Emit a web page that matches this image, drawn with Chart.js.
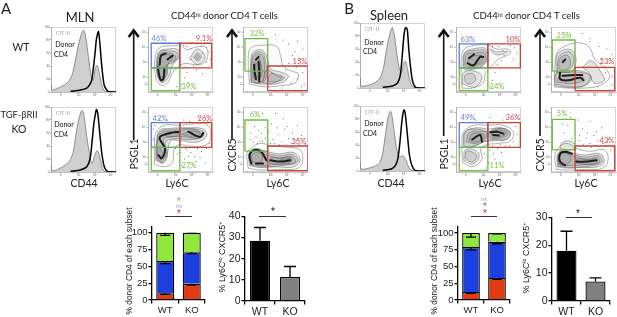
<!DOCTYPE html>
<html><head><meta charset="utf-8">
<script src="https://cdn.jsdelivr.net/npm/chart.js@4"></script>
<style>
html,body{margin:0;padding:0;background:#fff;overflow:hidden}
#stage{position:relative;width:617px;height:317px;overflow:hidden;filter:blur(.35px)}
canvas{position:absolute}
.t{position:absolute;white-space:nowrap;font-family:Lato,sans-serif;color:#222;line-height:1;transform:translate(-50%,-50%)}
.t sup{font-size:.62em;line-height:0;vertical-align:.45em}
.a{font-family:"Liberation Sans",Arial,sans-serif;color:#333}
.r{transform:translate(-50%,-50%) rotate(-90deg)}
.sl{position:absolute;height:1px;background:#333}
svg{position:absolute;left:0;top:0}
</style></head><body><div id="stage"><svg width="617" height="317" id="arrows"></svg></div>
<script>
/* ---------- histograms: x, y pairs in % of the axis ---------- */
const histAWtGray=[0.5,12,1,3,6,4,15,8,25,14,32,25,37,46,42,72,47,90,50,95,53,87,58,51,62,23,65,18,68,36,71,41,75,26,79,8,83,1,100,0];
const histAWtBlack=[30,1,45,3,55,6,60,12,63,20,68,62,70,82,73,93,75,77,78,41,82,10,88,1,100,0];
const histAKoGray=[0.5,10,1,2,8,3,18,8,28,16,34,30,38,55,42,78,46,92,48,95,51,85,55,55,60,22,63,13,67,25,71,33,74,28,78,10,82,1,100,0];
const histAKoBlack=[30,1,45,3,55,8,60,20,63,45,66,75,69,93,70,96,72,90,75,60,78,30,82,8,87,1,100,0];
const histBWtGray=[0.5,15,1.5,3,12,4,22,8,30,14,36,30,40,55,44,75,48,90,50,93,53,80,57,50,61,28,64,24,67,38,70,41,73,30,77,10,82,1,100,0];
const histBWtBlack=[35,1,50,3,58,8,62,20,65,50,67,75,69,90,71,93,73,88,75,60,78,30,81,10,86,1,100,0];
const histBKoGray=[0.5,14,1.5,3,12,4,22,7,30,12,35,28,39,55,43,82,47,92,50,80,54,50,58,26,62,22,66,24,70,18,74,8,78,2,85,0,100,0];
const histBKoBlack=[35,1,48,3,54,8,58,18,61,40,64,72,66,88,68,94,70,85,73,55,76,25,80,8,85,1,100,0];
const flowXTicks=[15,43,68,92];
const flowXLabels=['0','10³','10⁴','10⁵'];
const flowYTicks=[12,23,46,69,92];
const flowYLabels=['0','10²','10³','10⁴','10⁵'];
const histYTicks=[0,20,40,60,80,100];

/* ---------- contour plots: x, y pairs in % of the axis ---------- */
const a1wtRings=[[12,20,10,40,13,62,22,70,38,71,50,72,60,65,70,68,88,70,92,55,85,44,72,42,58,44,48,40,38,30,30,14,20,10,12,20],[14,25,13,45,17,62,30,66,46,65,47,52,38,42,32,24,22,14,14,25],[15,24,14,46,19,62,34,63,45,60,44,50,32,45,29,26,21,15,15,24],[16,30,15,48,20,60,32,60,42,56,40,46,30,42,28,26,20,18,16,30],[17,34,17,46,22,56,34,57,38,52,28,40,26,28,20,22,17,34],[64,52,76,66,88,54,76,42,64,52],[70,54,76,60,82,54,76,48,70,54],[73,54,76,57,79,54,76,51,73,54]];
const a1wtCore=[[15,38,18,22,21,18,24,22,25,36],[18,42,20,56,27,59],[30,50,38,56]];
const a1wtDots=[55,72,60,70,66,67,82,70,90,68,94,62,90,46,70,40,60,30,56,22,62,15,84,28,52,12,44,8,58,38,74,34,96,50,66,50,84,60];
const a2wtRings=[[10,12,8,50,12,68,30,72,52,70,58,55,62,40,75,32,85,28,80,14,60,10,35,8,10,12],[12,15,12,50,16,62,30,64,38,50,42,36,60,30,70,24,58,14,32,12,12,15],[13,16,13,48,18,60,30,60,35,46,36,30,34,18,22,13,13,16],[14,18,14,48,20,58,30,55,33,40,32,20,22,14,14,18],[16,22,17,44,24,52,28,42,28,24,20,18,16,22],[18,26,19,42,26,48,27,34,26,22,18,26],[30,14,36,34,48,28,60,24,48,14,30,14],[44,30,54,24,64,22,52,16,38,18,44,30]];
const a2wtCore=[[17,42,18,30,20,20],[24,46,25,30,25,16],[20,50,24,54]];
const a2wtDots=[50,88,62,80,70,74,84,78,92,66,76,56,88,50,96,44,70,44,82,38,92,30,84,20,94,12,66,34,74,14,60,6,80,62,90,8];
const a1koRings=[[10,12,10,40,12,60,25,72,48,72,70,74,92,72,96,50,85,40,60,40,48,42,40,35,38,15,25,8,10,12],[12,18,13,45,18,64,35,67,60,68,85,66,90,55,75,46,50,48,35,48,30,30,24,14,12,18],[13,20,13,42,19,62,40,65,62,67,84,63,84,54,65,50,40,51,27,46,30,26,22,14,13,20],[14,22,14,40,20,60,45,63,65,66,82,60,78,52,55,54,35,54,24,50,28,28,20,16,14,22],[52,58,66,63,80,60,74,54,58,56,52,58],[15,24,16,38,22,30,20,20,15,24],[26,56,42,60,48,57,34,54,26,56]];
const a1koCore=[[16,26,21,21,26,36,18,53,34,60,49,62],[62,62,80,54,85,60]];
const a1koDots=[60,34,66,30,72,24,82,32,90,36,74,16,88,14,56,20,52,10,46,28,94,44,98,60,92,78,78,84,55,80,30,80,18,82,64,6,50,30,58,36,68,38,76,36,84,38,62,24,80,22,70,12,42,36,8,50,8,66,10,72,40,76,64,78,48,18];
const a2koRings=[[8,6,6,28,14,38,28,44,45,40,70,38,88,34,92,18,85,6,55,4,25,3,8,6],[10,10,9,28,18,36,35,32,55,28,78,30,88,18,78,8,50,8,25,7,10,10],[11,11,11,28,19,34,34,30,55,25,77,27,84,16,60,10,30,8,11,11],[12,12,12,28,20,33,34,27,55,22,76,24,80,14,55,12,30,10,12,12],[14,16,14,26,22,30,30,24,26,14,14,16],[58,18,60,22,74,22,74,16,58,18],[40,14,44,22,60,20,74,20,72,14,50,12,40,14]];
const a2koCore=[[13,13,10,26,18,34,28,31,36,18],[20,13,31,13],[42,18,58,16,72,18]];
const a2koDots=[12,50,20,54,28,60,18,70,34,52,40,62,46,50,54,58,60,46,64,66,70,52,76,60,82,48,90,56,96,42,62,82,44,74,50,90,30,90,84,72,16,46,26,48,38,46,22,44,30,47,42,44,48,44,56,42,66,42,74,44,86,42,78,50,94,52,68,70,52,68,34,68,24,64,12,60];
const b1wtRings=[[9,6,8,40,12,65,30,72,50,72,62,66,80,66,84,60,65,50,55,40,45,28,42,14,25,6,9,6],[11,38,13,60,30,67,47,66,49,50,40,40,30,36,14,34,11,38],[10,12,12,30,28,32,40,24,30,8,10,12],[12,40,14,60,30,64,46,63,47,50,36,38,20,36,12,40],[14,42,16,58,30,60,44,60,44,48,32,40,20,38,14,42],[18,44,20,54,32,56,40,56,40,48,30,42,18,44],[14,16,14,26,26,28,30,18,20,12,14,16],[52,66,60,58,72,58,78,62,62,62,52,66]];
const b1wtCore=[[18,44,27,41,37,54,42,54],[20,52,28,58]];
const b1wtDots=[56,70,66,70,72,64,80,62,84,72,90,68,74,56,88,50,60,30,56,18,64,42,52,8,94,60,70,48];
const b2wtRings=[[5,8,6,40,10,62,25,72,42,76,58,70,68,50,85,35,90,22,75,10,50,6,25,6,5,8],[8,30,10,58,25,66,36,60,38,44,32,32,20,30,8,30],[10,32,12,54,26,62,34,56,34,42,24,33,10,32],[12,36,14,52,26,56,30,42,22,34,12,36],[8,12,8,28,24,30,48,30,62,24,56,12,32,8,8,12],[6,10,7,28,24,32,48,32,60,24,52,10,28,7,6,10],[10,15,12,24,26,26,46,26,50,18,32,13,10,15],[48,38,62,48,76,32,82,18,66,14,58,30,48,38]];
const b2wtCore=[[14,30,14,20,26,18,45,22,50,18],[18,25,36,26,48,26],[18,46,22,50]];
const b2wtDots=[30,88,48,90,60,82,74,70,86,66,94,58,78,50,90,44,84,30,94,24,72,8,60,78,94,12];
const b1koRings=[[10,15,9,40,12,62,28,72,50,72,72,72,88,62,84,48,65,44,48,42,38,36,40,20,25,8,10,15],[12,42,15,62,32,68,50,66,70,68,83,60,78,50,60,50,48,48,32,42,18,38,12,42],[11,40,14,62,32,66,50,62,72,67,84,60,76,50,58,48,44,47,30,40,16,38,11,40],[16,46,20,60,36,63,47,60,44,50,30,44,16,46],[20,48,24,58,36,60,44,56,40,50,28,46,20,48],[50,58,58,66,74,66,80,58,68,52,54,52,50,58],[54,58,62,64,74,63,76,58,66,54,56,54,54,58],[12,18,14,34,28,34,36,24,25,12,12,18],[14,22,16,32,26,30,32,24,24,15,14,22]];
const b1koCore=[[53,61,63,62,73,59],[57,57,66,56],[25,50,37,57,40,47]];
const b1koDots=[52,34,58,28,64,36,70,30,60,20,50,14,44,28,76,40,88,46,92,70,30,80,52,84,72,80,46,6,82,40,68,42,56,40,94,58];
const b2koRings=[[8,4,6,26,12,38,25,44,40,36,60,32,82,34,88,20,80,6,50,4,25,3,8,4],[10,8,10,26,18,34,32,30,50,26,75,28,82,16,72,8,45,7,25,6,10,8],[11,9,11,26,18,32,34,27,52,23,74,25,78,15,60,9,28,7,11,9],[14,10,12,24,20,30,35,24,55,20,72,22,74,14,50,11,30,10,14,10],[12,12,12,24,20,29,30,24,28,14,18,11,12,12],[38,14,40,20,56,19,70,20,70,14,52,12,38,14],[14,36,16,44,28,48,38,40,30,34,14,36]];
const b2koCore=[[22,10,14,16,14,28,22,31,32,28],[38,16,55,16,70,18]];
const b2koDots=[20,60,32,52,26,72,38,60,44,48,48,66,54,52,60,44,66,56,72,48,80,44,88,50,94,40,60,78,30,84,18,74,42,80,78,68,36,44,50,42,62,38,70,40,86,40,92,34,56,60,70,62,44,56];

/* gates: [xMin, xMax, yMin, yMax] in % of the axis */
const gA1WtBlue=[5,49,37,75], gA1WtRed=[49,98,37,75], gA1WtGreen=[5,49,2,37];
const gA1KoBlue=[5,49,38,76], gA1KoRed=[49,98,38,76], gA1KoGreen=[5,49,2,38];
const gA2WtGreen=[3,38,32,82], gA2WtRed=[38,100,2,40];
const gA2KoGreen=[3,38,32,80], gA2KoRed=[38,100,2,40];
const gB1WtBlue=[5,49,37,74], gB1WtRed=[49,99,37,74], gB1WtGreen=[5,49,2,37];
const gB1KoBlue=[5,49,38,76], gB1KoRed=[49,99,38,76], gB1KoGreen=[5,49,2,38];
const gB2WtGreen=[2,37,32,80], gB2WtRed=[37,98,2,38];
const gB2KoGreen=[2,37,34,81], gB2KoRed=[37,98,2,40];

/* ---------- bar charts ---------- */
const groups=['WT','KO'];
const stackATicks=[0,25,50,75,100];
const stackARed=[10,24], stackABlue=[48,47], stackAGreen=[42,29];
const stackARedLow=[8.5,22], stackABlueLow=[54,69], stackAGreenLow=[96,99];
const stackBRed=[12,33], stackBBlue=[67,54], stackBGreen=[21,13];
const stackBRedLow=[10,31], stackBBlueLow=[75,84], stackBGreenLow=[94,99];
const cxcr5ATicks=[0,10,20,30,40];
const cxcr5A=[28.5,11.3], cxcr5AHigh=[34.7,16.3];
const cxcr5BTicks=[0,10,20,30];
const cxcr5B=[18,7], cxcr5BHigh=[25,8.3];

const stage=document.getElementById('stage');
const pairs=f=>{const o=[];for(let i=0;i<f.length;i+=2)o.push({x:f[i],y:f[i+1]});return o;};
const gate=g=>[{x:g[0],y:g[2]},{x:g[1],y:g[2]},{x:g[1],y:g[3]},{x:g[0],y:g[3]},{x:g[0],y:g[2]}];

function mount(x,y,w,h,m){
  const c=document.createElement('canvas');
  c.width=w+m.l+m.r;c.height=h+m.t+m.b;
  c.style.left=(x-m.l)+'px';c.style.top=(y-m.t)+'px';
  c.style.width=c.width+'px';c.style.height=c.height+'px';
  stage.appendChild(c);return c;
}
const frame={id:'frame',beforeDraw(ch){const a=ch.chartArea,x=ch.ctx;x.save();x.strokeStyle='#d4d4d4';x.lineWidth=1;x.strokeRect(a.left+.5,a.top+.5,a.width-1,a.height-1);x.restore();}};
function flowOptions(xt,xl,yt,yl,m){
  const mk=(ticks,labels,isY)=>({type:'linear',min:0,max:100,
    afterBuildTicks(s){s.ticks=ticks.map(v=>({value:v}));},
    afterFit(s){if(isY)s.width=m.l;else s.height=m.b;},
    grid:{display:true,drawOnChartArea:false,tickLength:1.5,color:'#777',lineWidth:.5},
    border:{display:true,color:'#999',width:.6},
    ticks:{autoSkip:false,maxRotation:0,padding:0,color:'#666',font:{size:3,family:'Liberation Sans'},
      callback:(v,i)=>labels[i]}});
  return {responsive:false,animation:false,events:[],
    layout:{autoPadding:false,padding:{top:m.t,right:m.r,left:0,bottom:0}},
    plugins:{legend:{display:false},tooltip:{enabled:false}},
    scales:{x:mk(xt,xl,false),y:mk(yt,yl,true)}};
}
function hist(x,y,gray,black){
  const m={l:6,r:2,t:2,b:6};
  new Chart(mount(x,y,65,65,m),{type:'scatter',plugins:[frame],data:{datasets:[
    {data:pairs(black),showLine:true,borderColor:'#000',borderWidth:1.5,pointRadius:0,tension:.25},
    {data:pairs(gray),showLine:true,borderColor:'#777',borderWidth:.8,backgroundColor:'#cfcfcf',fill:'origin',pointRadius:0,tension:.25}
  ]},options:flowOptions(flowXTicks,flowXLabels,histYTicks,['0','20','40','60','80','100'],m)});
}
const gateColor={blue:'#5b7fd6',red:'#c8432f',green:'#6dbd3e'};
function contour(x,y,rings,core,dots,gates){
  const m={l:6,r:2,t:2,b:6};
  const ds=[];
  gates.forEach(g=>ds.push({data:gate(g[0]),showLine:true,borderColor:gateColor[g[1]],borderWidth:1.3,pointRadius:0,tension:0,order:0}));
  core.forEach(c=>ds.push({data:pairs(c),showLine:true,borderColor:'#1c1c1c',borderWidth:2,pointRadius:0,tension:.4,borderCapStyle:'round',order:1}));
  rings.forEach((r,i)=>ds.push({data:pairs(r),showLine:true,borderColor:'#666',borderWidth:.5,backgroundColor:i?'rgba(70,70,70,.13)':'rgba(70,70,70,.02)',fill:'shape',pointRadius:0,tension:.4,order:2}));
  ds.push({data:pairs(dots),showLine:false,pointRadius:.5,pointBackgroundColor:'#444',pointBorderWidth:0,order:3});
  new Chart(mount(x,y,65,65,m),{type:'scatter',plugins:[frame],data:{datasets:ds},
    options:flowOptions(flowXTicks,flowXLabels,flowYTicks,flowYLabels,m)});
}
hist(51,27,histAWtGray,histAWtBlack);
hist(51,107,histAKoGray,histAKoBlack);
hist(360,23,histBWtGray,histBWtBlack);
hist(360,106,histBKoGray,histBKoBlack);
contour(148,27,a1wtRings,a1wtCore,a1wtDots,[[gA1WtGreen,'green'],[gA1WtRed,'red'],[gA1WtBlue,'blue']]);
contour(148,107,a1koRings,a1koCore,a1koDots,[[gA1KoGreen,'green'],[gA1KoRed,'red'],[gA1KoBlue,'blue']]);
contour(243,27,a2wtRings,a2wtCore,a2wtDots,[[gA2WtRed,'red'],[gA2WtGreen,'green']]);
contour(243,107,a2koRings,a2koCore,a2koDots,[[gA2KoRed,'red'],[gA2KoGreen,'green']]);
contour(456,27,b1wtRings,b1wtCore,b1wtDots,[[gB1WtGreen,'green'],[gB1WtRed,'red'],[gB1WtBlue,'blue']]);
contour(456,107,b1koRings,b1koCore,b1koDots,[[gB1KoGreen,'green'],[gB1KoRed,'red'],[gB1KoBlue,'blue']]);
contour(551,27,b2wtRings,b2wtCore,b2wtDots,[[gB2WtRed,'red'],[gB2WtGreen,'green']]);
contour(551,107,b2koRings,b2koCore,b2koDots,[[gB2KoRed,'red'],[gB2KoGreen,'green']]);

/* error bars drawn through the chart's own scales */
const errorBars={id:'errorBars',afterDatasetsDraw(ch,a,o){
  const c=ch.ctx,xs=ch.scales.x,ys=ch.scales.y;c.save();c.strokeStyle='#000';c.lineWidth=1.3;
  (o.sets||[]).forEach(s=>s.to.forEach((v,i)=>{
    const x=xs.getPixelForValue(i),y0=ys.getPixelForValue(s.from[i]),y1=ys.getPixelForValue(v);
    c.beginPath();c.moveTo(x,y0);c.lineTo(x,y1);c.moveTo(x-o.cap,y1);c.lineTo(x+o.cap,y1);c.stroke();
  }));c.restore();}};
function barChart(x,top,w,bottom,yMax,ticks,datasets,sets,cap,pct,fs){
  const m={l:22,r:2,t:2,b:16};
  const h=bottom-top;
  const ax={grid:{display:true,drawOnChartArea:false,tickLength:3.5,color:'#000',lineWidth:1.3},
    border:{display:true,color:'#000',width:1.3},
    ticks:{color:'#222',padding:1,autoSkip:false,maxRotation:0,font:{size:fs,family:'Liberation Sans'}}};
  new Chart(mount(x,top,w,h,m),{type:'bar',plugins:[errorBars],
    data:{labels:groups,datasets:datasets.map(d=>Object.assign({borderColor:'#000',borderWidth:1.3,barPercentage:pct,categoryPercentage:1,stack:'s'},d))},
    options:{responsive:false,animation:false,events:[],
      layout:{autoPadding:false,padding:{top:m.t,right:m.r,left:0,bottom:0}},
      plugins:{legend:{display:false},tooltip:{enabled:false},errorBars:{sets,cap}},
      scales:{
        x:Object.assign({},ax,{stacked:true,afterFit(s){s.height=m.b;}}),
        y:Object.assign({},ax,{stacked:true,min:0,max:yMax,afterBuildTicks(s){s.ticks=ticks.map(v=>({value:v}));},afterFit(s){s.width=m.l;}})
      }}});
}
const tops=(a,b,c)=>a.map((v,i)=>v+(b?b[i]:0)+(c?c[i]:0));
const RED='#e23a12',BLUE='#1c3fe0',GREEN='#90e83e';
barChart(152,222,53,300,109,stackATicks,
  [{data:stackARed,backgroundColor:RED},{data:stackABlue,backgroundColor:BLUE},{data:stackAGreen,backgroundColor:GREEN}],
  [{from:tops(stackARed),to:stackARedLow},{from:tops(stackARed,stackABlue),to:stackABlueLow},{from:tops(stackARed,stackABlue,stackAGreen),to:stackAGreenLow}],5,.68,9.5);
barChart(457.7,222.3,52.3,301,109.5,stackATicks,
  [{data:stackBRed,backgroundColor:RED},{data:stackBBlue,backgroundColor:BLUE},{data:stackBGreen,backgroundColor:GREEN}],
  [{from:tops(stackBRed),to:stackBRedLow},{from:tops(stackBRed,stackBBlue),to:stackBBlueLow},{from:tops(stackBRed,stackBBlue,stackBGreen),to:stackBGreenLow}],5,.68,9.5);
barChart(244.5,211,60,301,40,cxcr5ATicks,
  [{data:cxcr5A,backgroundColor:['#000','#808080']}],[{from:cxcr5A,to:cxcr5AHigh}],6,.667,10.5);
barChart(552,211.7,58,300.7,30,cxcr5BTicks,
  [{data:cxcr5B,backgroundColor:['#000','#808080']}],[{from:cxcr5B,to:cxcr5BHigh}],6,.69,10.5);

/* ---------- text ---------- */
function T(x,y,s,size,color,extra){
  const d=document.createElement('div');d.className='t '+(extra||'');d.innerHTML=s;
  d.style.left=x+'px';d.style.top=y+'px';d.style.fontSize=size+'px';if(color)d.style.color=color;
  stage.appendChild(d);
}
const labelsBig=[[6,8,'A',15],[349,8,'B',15],[80,16.5,'MLN',13],[389,15,'Spleen',13]];
labelsBig.forEach(l=>T(l[0],l[1],l[2],l[3]));
const headers=[[224.5,16],[526.5,16]];
headers.forEach(h=>T(h[0],h[1],'CD44<sup>hi</sup> donor CD4 T cells',9.6));
[[21,47,'WT'],[19,129,'KO'],[84,183,'CD44'],[177,183,'Ly6C'],[278,183,'Ly6C'],[391,183,'CD44'],[490,183,'Ly6C'],[586,183,'Ly6C']].forEach(l=>T(l[0],l[1],l[2],10.5));
T(19,115,'TGF-βRII',9.4);
[[133.5,154,'PSGL1'],[232,155,'CXCR5'],[443.7,154,'PSGL1'],[539.5,155,'CXCR5']].forEach(l=>T(l[0],l[1],l[2],10.5,null,'r'));
const otii=[[63,33],[63,113],[372,29],[372,112]], donor=[[65,44],[64,124],[374,42],[374,123]], cd4=[[61,53.5],[61,134],[370,51],[370,133]];
otii.forEach(p=>T(p[0],p[1],'OT-II',6.5,'#a8a8a8'));
donor.forEach(p=>T(p[0],p[1],'Donor',7,'#111'));
cd4.forEach(p=>T(p[0],p[1],'CD4',7,'#111'));
const B_='#6a86d8',R_='#d04a48',G_='#79c148';
[[159,39,'46%',B_],[204,39,'9.1%',R_],[189,87,'39%',G_],[257,34,'32%',G_],[300,62,'15%',R_],
 [160,119,'42%',B_],[205,119,'26%',R_],[189,166,'27%',G_],[255,115,'6%',G_],[299,142,'35%',R_],
 [468,40,'63%',B_],[513,40,'10%',R_],[497,87,'24%',G_],[564,36,'25%',G_],[607,62,'23%',R_],
 [468,118,'49%',B_],[513,118,'36%',R_],[497,166,'11%',G_],[562,114,'5%',G_],[607,141,'43%',R_]
].forEach(l=>T(l[0],l[1],l[2],7.6,l[3]));
[[128.5,260.5],[433.5,260.5]].forEach(p=>T(p[0],p[1],'% donor CD4 of each subset',8.4,'#222','a r'));
[[222,257],[526,258]].forEach(p=>T(p[0],p[1],'% Ly6C<sup>lo</sup> CXCR5<sup>+</sup>',8.9,'#111','a r'));
[[179,200.5,'*','#7cc142',11],[179,206.5,'ns','#8a9ae0',5.5],[179,212.5,'*','#d8334a',11],
 [484,199.5,'ns','#8cc152',5.5],[485,206,'*','#5a78e0',11],[485,212.5,'*','#d8334a',11],
 [273,212,'*','#111',10],[578,213.5,'*','#111',10]].forEach(l=>T(l[0],l[1],l[2],l[4],l[3],'a'));
[[165,192,215.8],[259,286,215.7],[470.7,497,215.7],[565.7,591.7,217.3]].forEach(s=>{
  const d=document.createElement('div');d.className='sl';d.style.left=s[0]+'px';d.style.width=(s[1]-s[0])+'px';d.style.top=s[2]+'px';stage.appendChild(d);});
/* arrows */
const svg=document.getElementById('arrows');
[[133.7,140],[232,140],[443.7,136],[540,136]].forEach(a=>{
  svg.innerHTML+=`<path d="M${a[0]} ${a[1]}V32" stroke="#111" stroke-width="1.6" fill="none"/><path d="M${a[0]-5} 37L${a[0]} 30.5L${a[0]+5} 37" stroke="#111" stroke-width="2.6" fill="none"/>`;
});
</script></body></html>
